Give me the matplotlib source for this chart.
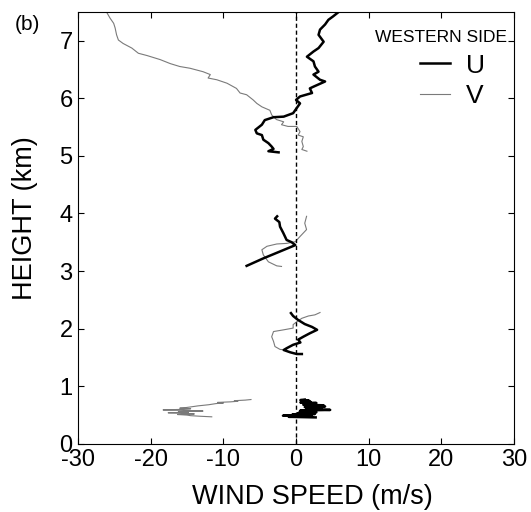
import numpy as np
import matplotlib
matplotlib.use('Agg')
import matplotlib.pyplot as plt
from matplotlib.lines import Line2D

plt.rcParams['font.family'] = ['Liberation Sans', 'DejaVu Sans']
plt.rcParams['axes.unicode_minus'] = False

# Wind profile, western side (m/s vs km), read off the figure layer by layer
# layer 1 : 0.45-0.8 km
u1_z = [0.46, 0.47, 0.48, 0.49, 0.50, 0.51, 0.52, 0.53, 0.54, 0.55, 0.56, 0.57, 0.58,
        0.59, 0.60, 0.61, 0.62, 0.63, 0.64, 0.65, 0.66, 0.67, 0.68, 0.69, 0.70, 0.71,
        0.72, 0.73, 0.74, 0.75, 0.76, 0.77]
u1 = [2.7, -1.0, 2.2, -1.8, 1.5, -0.5, 2.6, 0.2, 1.0, 2.8, 0.5, 1.5, 0.6,
      4.7, 2.0, 3.5, 1.4, 3.0, 1.2, 4.0, 2.2, 3.8, 1.0, 2.5, 1.5, 2.8,
      0.6, 2.0, 0.8, 1.8, 0.6, 1.2]
v1_z = [0.47, 0.48, 0.49, 0.50, 0.51, 0.52, 0.53, 0.54, 0.55, 0.56, 0.57, 0.58, 0.59,
        0.60, 0.61, 0.62, 0.63, 0.64, 0.66, 0.68, 0.70, 0.71, 0.72, 0.73, 0.74, 0.75,
        0.76, 0.77]
v1 = [-11.6, -13.2, -14.5, -15.0, -16.3, -14.0, -15.5, -17.6, -14.8, -16.2, -12.8, -15.0, -18.3,
      -15.5, -14.5, -16.0, -15.2, -14.6, -13.5, -12.0, -11.0, -10.0, -10.8, -9.0, -8.0, -8.5,
      -7.0, -6.2]

# layer 2 : 1.55-2.3 km
u2_z = [1.56, 1.56, 1.59, 1.63, 1.66, 1.72, 1.76, 1.81, 1.86, 1.92, 1.98, 2.03, 2.08, 2.15, 2.22, 2.27]
u2 = [0.8, 0.1, -0.8, -1.7, -1.3, -0.4, 0.6, 0.3, 1.0, 1.9, 2.9, 2.2, 1.2, 0.3, -0.4, -0.7]
v2_z = [1.63, 1.64, 1.69, 1.78, 1.86, 1.95, 1.98, 2.01, 2.07, 2.12, 2.18, 2.22, 2.24, 2.28]
v2 = [-1.3, -2.2, -2.9, -3.1, -3.35, -3.1, -1.7, -0.4, -0.4, 0.1, 0.8, 1.7, 2.6, 3.3]

# layer 3 : 3.1-3.95 km
u3_z = [3.09, 3.22, 3.34, 3.45, 3.50, 3.54, 3.66, 3.77, 3.85, 3.91, 3.95]
u3 = [-6.8, -4.5, -2.2, -0.1, -0.6, -1.3, -1.75, -2.2, -2.3, -2.9, -2.6]
v3_z = [3.08, 3.09, 3.16, 3.28, 3.37, 3.43, 3.47, 3.48, 3.51, 3.60, 3.72, 3.83, 3.95]
v3 = [-2.0, -2.65, -3.8, -4.5, -4.7, -4.0, -2.65, -1.3, -0.1, 0.55, 1.45, 1.2, 1.45]

# layer 4 : 5.05-7.5 km
u4_z = [5.06, 5.08, 5.12, 5.16, 5.22, 5.28, 5.36, 5.39, 5.45, 5.54, 5.62, 5.67, 5.68,
        5.74, 5.83, 5.91, 5.97, 6.03, 6.09, 6.17, 6.20, 6.29, 6.32, 6.41, 6.46, 6.55,
        6.64, 6.72, 6.81, 6.87, 6.98, 7.10, 7.19, 7.28, 7.36, 7.42, 7.50]
u4 = [-2.4, -3.8, -3.1, -3.35, -3.8, -4.5, -4.7, -5.4, -5.6, -4.7, -4.3, -3.1, -1.7,
      -0.4, 0.1, 0.55, 0.0, 0.55, 2.2, 1.9, 2.4, 4.0, 3.3, 2.4, 3.1, 2.6,
      2.4, 1.5, 2.4, 3.1, 3.8, 3.1, 3.3, 4.0, 4.45, 5.1, 5.9]
v4_z = [5.08, 5.11, 5.16, 5.25, 5.33, 5.36, 5.42, 5.51, 5.51, 5.54, 5.59, 5.63, 5.71,
        5.79, 5.85, 5.91, 5.97, 6.06, 6.09, 6.17, 6.26, 6.32, 6.35, 6.41, 6.46, 6.52,
        6.55, 6.60, 6.67, 6.74, 6.78, 6.87, 6.95, 7.01, 7.10, 7.22, 7.30, 7.39, 7.50]
v4 = [1.5, 0.8, 1.0, 0.8, 1.0, 0.3, 0.55, 0.1, -1.1, -2.0, -1.7, -2.7, -3.35,
      -3.6, -4.7, -5.4, -5.9, -6.8, -7.7, -8.2, -9.5, -10.9, -12.1, -11.8, -12.8, -14.6,
      -16.0, -17.3, -18.7, -20.5, -21.7, -22.6, -23.8, -24.45, -24.7, -24.9, -25.1, -25.6, -26.1]

u_layers = [(u1, u1_z), (u2, u2_z), (u3, u3_z), (u4, u4_z)]
v_layers = [(v1, v1_z), (v2, v2_z), (v3, v3_z), (v4, v4_z)]

v_color = '#7a7a7a'

fig = plt.figure(figsize=(5.31, 5.12), dpi=100)
ax = fig.add_axes([0.147, 0.133, 0.821, 0.844])

for x, z in v_layers:
    ax.plot(x, z, color=v_color, lw=0.8)
for x, z in u_layers:
    ax.plot(x, z, color='black', lw=1.8, solid_joinstyle='round')

ax.axvline(0, color='black', lw=1, ls=(0, (3, 2)))

ax.set_xlim(-30, 30)
ax.set_ylim(0, 7.5)
ax.set_xticks(np.arange(-30, 31, 10))
ax.set_yticks(np.arange(0, 8, 1))
ax.tick_params(direction='in', top=True, right=True, length=4, labelsize=17, pad=4)

ax.set_xlabel('WIND SPEED (m/s)', fontsize=19.5)
ax.set_ylabel('HEIGHT (km)', fontsize=19.5)
ax.xaxis.set_label_coords(0.538, -0.092)
ax.yaxis.set_label_coords(-0.092, 0.523)

ax.text(0.984, 0.941, 'WESTERN SIDE', transform=ax.transAxes, ha='right', va='center', fontsize=12.5)
handles = [Line2D([], [], color='black', lw=1.8), Line2D([], [], color=v_color, lw=0.8)]
ax.legend(handles, ['U', 'V'], loc='upper right', bbox_to_anchor=(0.933, 0.903),
          frameon=False, fontsize=19, handlelength=1.15, handletextpad=0.6,
          borderpad=0, borderaxespad=0, labelspacing=0.25)

fig.text(0.028, 0.952, '(b)', fontsize=15, va='center', ha='left')

fig.savefig('out.png', dpi=100)
